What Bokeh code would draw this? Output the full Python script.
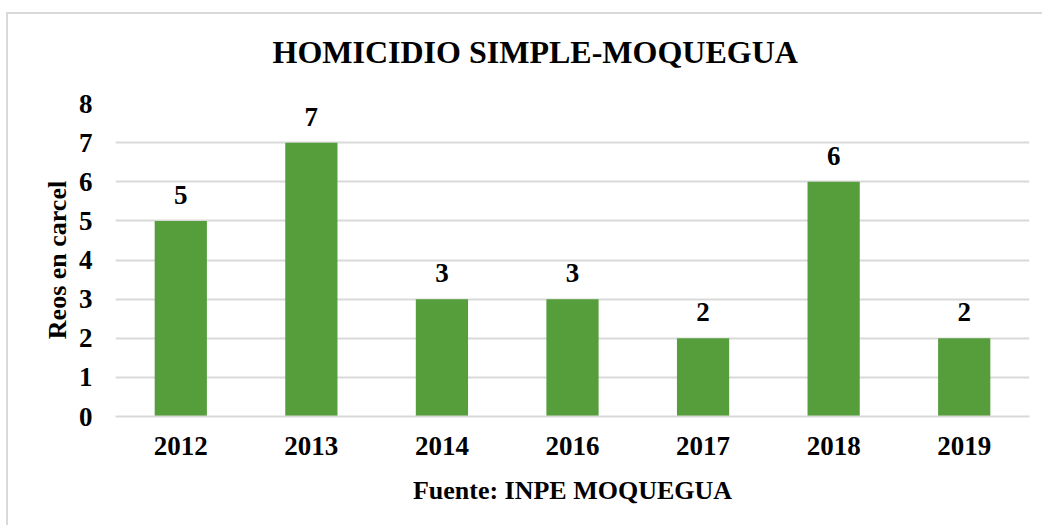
from bokeh.plotting import figure
from bokeh.models import ColumnDataSource, FixedTicker, Title
from bokeh.core.properties import value
from bokeh.embed import file_html
from bokeh.resources import INLINE

years = ["2012", "2013", "2014", "2016", "2017", "2018", "2019"]
reos = [5, 7, 3, 3, 2, 6, 2]
labels = [str(v) for v in reos]
y_ticks = [0, 1, 2, 3, 4, 5, 6, 7, 8]
title_text = "HOMICIDIO SIMPLE-MOQUEGUA"

FONT = "Liberation Serif"
GRID = "#d9d9d9"
GREEN = "#559E3B"

src = ColumnDataSource(dict(x=years, top=reos, lab=labels))

W, H = 1036, 513
p = figure(x_range=years, y_range=(0, 8), width=W, height=H,
           output_backend="svg", toolbar_location=None, tools="",
           min_border_left=107, min_border_right=W - 1021,
           min_border_top=89, min_border_bottom=H - 402)
p.styles = {"border-top": "2px solid #d9d9d9", "border-left": "2px solid #d9d9d9",
            "margin-left": "6px", "margin-top": "12px"}

p.vbar(x="x", top="top", width=0.4, source=src, fill_color=GREEN, line_color=None)
p.text(x="x", y="top", text="lab", source=src, text_align="center",
       text_baseline="alphabetic", y_offset=-26,
       text_font=value(FONT), text_font_style="bold", text_font_size="27px",
       text_color="black")

# spacer between frame and title
p.add_layout(Title(text=" ", text_font_size="1px", standoff=31), "above")

p.title.text = title_text
p.title.align = "left"
p.title.offset = 157
p.title.text_font = FONT
p.title.text_font_size = "32px"
p.title.text_font_style = "bold"
p.title.text_color = "black"
p.title.standoff = 0

p.outline_line_color = None
p.xgrid.grid_line_color = None
p.ygrid.grid_line_color = GRID
p.ygrid.grid_line_width = 2
p.yaxis.ticker = FixedTicker(ticks=y_ticks)

for ax in (p.xaxis, p.yaxis):
    ax.major_tick_line_color = None
    ax.minor_tick_line_color = None
    ax.major_tick_out = 0
    ax.major_tick_in = 0
    ax.major_label_text_font = FONT
    ax.major_label_text_font_size = "27px"
    ax.major_label_text_font_style = "bold"
    ax.major_label_text_color = "black"
    ax.axis_label_text_font = FONT
    ax.axis_label_text_font_size = "26px"
    ax.axis_label_text_font_style = "bold"
    ax.axis_label_text_color = "black"

p.yaxis.axis_line_color = None
p.yaxis.major_label_standoff = 23
p.yaxis.axis_label = "Reos en carcel"
p.yaxis.axis_label_standoff = 4

p.xaxis.axis_line_color = GRID
p.xaxis.axis_line_width = 2
p.xaxis.major_label_standoff = 20
p.xaxis.axis_label = "Fuente: INPE MOQUEGUA"
p.xaxis.axis_label_standoff = 18

open("out.html", "w").write(file_html(p, INLINE))
